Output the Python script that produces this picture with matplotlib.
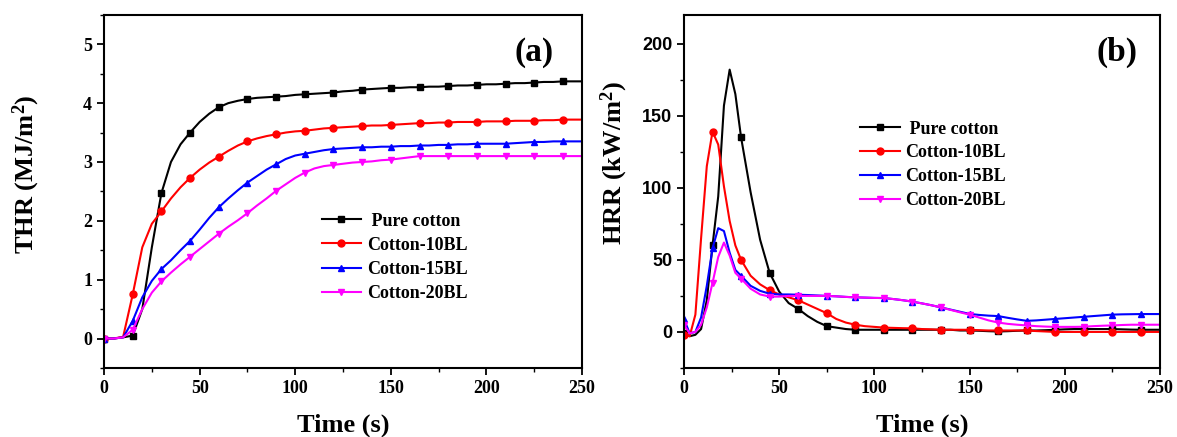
import numpy as np
import matplotlib
matplotlib.use("Agg")
import matplotlib.pyplot as plt

# ---------------- data ----------------
series_names = [" Pure cotton", "Cotton-10BL", "Cotton-15BL", "Cotton-20BL"]
colors = ["#000000", "#FF0000", "#0000FF", "#FF00FF"]
markers = ["s", "o", "^", "v"]

# Panel (a): THR, time every 5 s
t_a = list(range(0, 251, 5))
thr_pure = [0, 0, 0.02, 0.05, 0.5, 1.55, 2.47, 3.0, 3.3, 3.5, 3.68, 3.82, 3.93, 4.0, 4.04, 4.07,
            4.09, 4.1, 4.11, 4.12, 4.14, 4.15, 4.16, 4.17, 4.18, 4.2, 4.21, 4.23, 4.24, 4.25, 4.26,
            4.26, 4.27, 4.27, 4.28, 4.28, 4.29, 4.3, 4.3, 4.31, 4.32, 4.32, 4.33, 4.34, 4.34, 4.35,
            4.36, 4.36, 4.37, 4.37, 4.37]
thr_10 = [0, 0, 0.03, 0.75, 1.55, 1.95, 2.16, 2.38, 2.57, 2.73, 2.87, 2.99, 3.09, 3.19, 3.28, 3.35,
          3.4, 3.44, 3.47, 3.5, 3.52, 3.53, 3.55, 3.57, 3.58, 3.59, 3.6, 3.61, 3.62, 3.62, 3.63,
          3.64, 3.65, 3.66, 3.66, 3.67, 3.67, 3.68, 3.68, 3.68, 3.69, 3.69, 3.69, 3.7, 3.7, 3.7,
          3.71, 3.71, 3.72, 3.72, 3.72]
thr_15 = [0, 0, 0.02, 0.3, 0.7, 0.98, 1.18, 1.33, 1.5, 1.66, 1.85, 2.05, 2.23, 2.38, 2.52, 2.65,
          2.76, 2.87, 2.96, 3.05, 3.11, 3.14, 3.17, 3.2, 3.22, 3.23, 3.24, 3.25, 3.25, 3.26, 3.26,
          3.27, 3.27, 3.28, 3.28, 3.29, 3.29, 3.3, 3.3, 3.31, 3.31, 3.31, 3.31, 3.32, 3.33, 3.34,
          3.34, 3.35, 3.35, 3.35, 3.35]
thr_20 = [0, 0, 0.02, 0.15, 0.5, 0.78, 0.97, 1.12, 1.26, 1.39, 1.52, 1.65, 1.78, 1.9, 2.01, 2.13,
          2.26, 2.38, 2.51, 2.62, 2.73, 2.82, 2.89, 2.93, 2.95, 2.97, 2.99, 3.0, 3.01, 3.03, 3.04,
          3.06, 3.08, 3.1, 3.1, 3.1, 3.1, 3.1, 3.1, 3.1, 3.1, 3.1, 3.1, 3.1, 3.1, 3.1,
          3.1, 3.1, 3.1, 3.1, 3.1]

# Panel (b): HRR
t_b = [0, 3, 6, 9, 12, 15, 18, 21, 24, 27, 30] + list(range(35, 251, 5))
hrr_pure = [-1, -3, -2, 2, 22, 60, 94, 157, 182, 165, 135,
            97, 64, 41, 28, 20, 16, 11, 7, 4, 3, 2, 1.5, 1.5, 1.5, 1.5, 1.5, 1.5, 1.5, 1.5, 1.5,
            1.5, 1.5, 1, 1, 0.8, 0.5, 0.3, 0.5, 0.8, 1, 1, 1.2, 1.5, 1.8, 2, 2, 2, 2, 2,
            1.8, 1.6, 1.5, 1.5, 1.5]
hrr_10 = [-2, -3, 12, 65, 115, 139, 130, 101, 77, 60, 50,
          39, 33, 29, 26, 24, 22, 19, 16, 13, 9, 6.5, 5, 4, 3.5, 3, 2.8, 2.6, 2.5, 2, 1.8,
          1.5, 1.5, 1.5, 1.5, 1.2, 1, 1, 1, 1, 1, 0.6, 0.3, 0, 0, 0, 0, 0, 0, 0,
          0, 0, 0, 0, 0]
hrr_15 = [9, -1, 0, 10, 32, 58, 72, 70, 55, 43, 39,
          32, 28.5, 26.5, 26, 26, 25.8, 25.6, 25.3, 25, 24.7, 24.3, 24, 23.8, 23.6, 23.5, 22.8,
          22, 21, 19.8, 18.5, 17, 15.5, 14, 12.5, 11.8, 11.3, 11, 9.8, 8.7, 7.7, 8, 8.5, 9, 9.5,
          10, 10.5, 11, 11.5, 12, 12.2, 12.3, 12.4, 12.4, 12.4]
hrr_20 = [5, -1, 0, 5, 17, 34, 52, 62, 53, 41, 37,
          30, 26, 24.5, 24.5, 25, 25, 25, 25, 25, 24.7, 24.3, 24, 23.8, 23.6, 23.5, 22.8,
          22, 21, 19.8, 18.5, 17, 15.3, 13.6, 12, 10, 8, 6.5, 5.6, 5, 4.5, 4, 3.7, 3.5, 3.5,
          3.5, 3.6, 4, 4.3, 4.5, 4.8, 5, 5, 5, 5]

thr_series = [thr_pure, thr_10, thr_15, thr_20]
hrr_series = [hrr_pure, hrr_10, hrr_15, hrr_20]

# ---------------- style ----------------
plt.rcParams["font.family"] = ["Liberation Serif", "DejaVu Serif"]
plt.rcParams["font.weight"] = "bold"
plt.rcParams["axes.labelweight"] = "bold"
plt.rcParams["mathtext.fontset"] = "custom"
plt.rcParams["mathtext.bf"] = "Liberation Serif:bold"
plt.rcParams["mathtext.rm"] = "Liberation Serif:bold"
plt.rcParams["mathtext.default"] = "bf"

fig = plt.figure(figsize=(11.77, 4.37), dpi=100)
ax_a = fig.add_axes([0.0884, 0.158, 0.4061, 0.808])
ax_b = fig.add_axes([0.5811, 0.158, 0.4044, 0.808])

def style_axes(ax):
    for s in ax.spines.values():
        s.set_linewidth(1.5)
    ax.tick_params(which="major", direction="out", length=5, width=1.3,
                   labelsize=13, top=False, right=False)
    ax.tick_params(which="minor", direction="out", length=3, width=1.0,
                   top=False, right=False)
    for lab in ax.get_xticklabels() + ax.get_yticklabels():
        lab.set_fontweight("bold")

# Panel (a)
mk_a = [i for i, t in enumerate(t_a) if t % 15 == 0]
for y, c, m, n in zip(thr_series, colors, markers, series_names):
    ax_a.plot(t_a, y, color=c, marker=m, markersize=5, lw=1.5, markevery=mk_a, label=n)
ax_a.set_xlim(0, 250)
ax_a.set_ylim(-0.5, 5.5)
ax_a.set_xticks([0, 50, 100, 150, 200, 250])
ax_a.set_xticks(np.arange(25, 250, 50), minor=True)
ax_a.set_yticks([0, 1, 2, 3, 4, 5])
ax_a.set_yticks(np.arange(-0.5, 5.6, 0.5), minor=True)
style_axes(ax_a)
ax_a.set_xlabel("Time (s)", fontsize=19, fontweight="bold")
ax_a.set_ylabel(r"THR (MJ/m$^{\mathbf{2}}$)", fontsize=19, fontweight="bold")
ax_a.xaxis.set_label_coords(0.5, -0.13)
ax_a.yaxis.set_label_coords(-0.13, 0.55)
ax_a.text(0.90, 0.892, "(a)", transform=ax_a.transAxes, fontsize=24,
          fontweight="bold", ha="center", va="center")
ax_a.legend(loc="upper left", bbox_to_anchor=(0.455, 0.44), frameon=False,
            prop={"family": "Liberation Serif", "weight": "bold", "size": 13},
            handlelength=2.2, handletextpad=0.3, labelspacing=0.4,
            borderpad=0, borderaxespad=0)

# Panel (b)
mk_b = [i for i, t in enumerate(t_b) if t % 15 == 0]
for y, c, m, n in zip(hrr_series, colors, markers, series_names):
    ax_b.plot(t_b, y, color=c, marker=m, markersize=5, lw=1.5, markevery=mk_b, label=n)
ax_b.set_xlim(0, 250)
ax_b.set_ylim(-25, 220)
ax_b.set_xticks([0, 50, 100, 150, 200, 250])
ax_b.set_xticks(np.arange(25, 250, 50), minor=True)
ax_b.set_yticks([0, 50, 100, 150, 200])
ax_b.set_yticks(np.arange(-25, 220, 25), minor=True)
style_axes(ax_b)
for lab in ax_b.get_yticklabels():
    lab.set_fontfamily("Liberation Sans")
    lab.set_fontweight("bold")
ax_b.set_xlabel("Time (s)", fontsize=19, fontweight="bold")
ax_b.set_ylabel(r"HRR (kW/m$^{\mathbf{2}}$)", fontsize=19, fontweight="bold")
ax_b.xaxis.set_label_coords(0.5, -0.13)
ax_b.yaxis.set_label_coords(-0.114, 0.58)
ax_b.text(0.91, 0.895, "(b)", transform=ax_b.transAxes, fontsize=24,
          fontweight="bold", ha="center", va="center")
ax_b.legend(loc="upper left", bbox_to_anchor=(0.37, 0.70), frameon=False,
            prop={"family": "Liberation Serif", "weight": "bold", "size": 13},
            handlelength=2.2, handletextpad=0.3, labelspacing=0.37,
            borderpad=0, borderaxespad=0)

fig.savefig("out.png", dpi=100, facecolor="white")
